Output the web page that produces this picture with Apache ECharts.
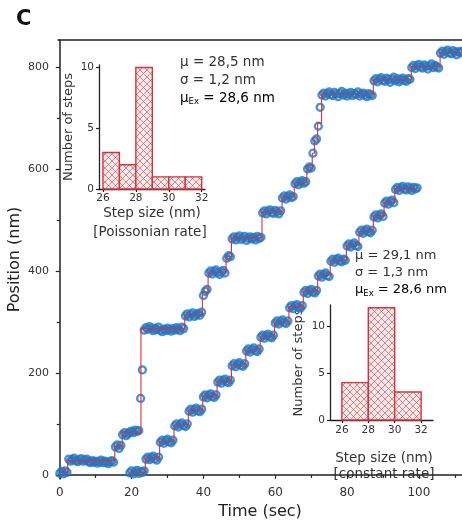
<!DOCTYPE html>
<html>
<head>
<meta charset="utf-8">
<script src="https://cdn.jsdelivr.net/npm/echarts@6/dist/echarts.min.js"></script>
<style>
html, body { margin: 0; padding: 0; background: #fff; }
#chart { width: 462px; height: 520px; }
</style>
</head>
<body>
<div id="chart"></div>
<script>
// frame interval of the tracking (sec)
const frameDt = 0.5

// trace 1 (Poissonian rate), positions in nm, one per frame from t = 0
const trace1T0 = 0
const trace1Pos = [
  3, 7, 2, 8, 5,
  31, 27, 30, 33, 28, 26, 30, 32, 27, 29, 31,
  26, 24, 28, 25, 27, 23, 26, 29, 24, 27, 25, 22, 26, 28, 25,
  55, 59, 52, 58,
  79, 83, 77, 81, 84,
  86, 83, 88, 85, 87,
  150, 206,
  284, 289, 286, 291, 287, 283, 288, 285, 290, 284, 281, 286, 283, 288, 285, 282, 287, 284, 289, 286, 283, 290, 287,
  312, 316, 310, 315, 318, 311, 314, 317, 313, 319,
  352, 360, 364,
  396, 400, 394, 399, 402, 397, 393, 398, 401, 396,
  425, 430, 428,
  463, 467, 461, 466, 469, 462, 465, 468, 460, 464, 467, 463, 466, 461, 468, 464, 466,
  514, 518, 512, 517, 520, 515, 513, 519, 516, 512, 518,
  543, 547, 541, 546, 549, 544, 546,
  571, 575, 569, 574, 577, 572, 575,
  600, 604, 602,
  631,
  655, 659,
  684,
  721,
  745, 749, 743, 748, 751, 746, 744, 750, 747, 742, 748, 752, 745, 749, 743, 747, 750, 744, 748, 746, 751, 743, 747, 749, 745, 742, 748, 746, 744,
  773, 777, 771, 776, 779, 774, 772, 778, 775, 770, 776, 780, 773, 777, 771, 775, 778, 774, 772, 777, 776,
  799, 803, 797, 802, 805, 800, 798, 804, 801, 796, 802, 806, 799, 803, 800, 798,
  827, 831, 825, 830, 833, 828, 826, 832, 829, 824, 830, 828, 831
]

// trace 2 (constant rate), from t = 19.5
const trace2T0 = 19.5
const trace2Pos = [
  4, 8, 2, 6, 9, 3, 7, 5, 8,
  31, 35, 30, 34, 37, 32, 29, 35,
  64, 68, 62, 67, 70, 65, 63, 68,
  96, 100, 94, 99, 102, 97, 95, 100,
  125, 129, 123, 128, 131, 126, 124, 129,
  153, 157, 151, 156, 159, 154, 152, 157,
  182, 186, 180, 185, 188, 183, 181, 186,
  214, 218, 212, 217, 220, 215, 213, 218,
  243, 247, 241, 246, 249, 244, 242, 247,
  270, 274, 268, 273, 276, 271, 269, 274,
  298, 302, 296, 301, 304, 299, 297, 302,
  328, 332, 326, 331, 334, 329, 327, 332,
  358, 362, 356, 361, 364, 359, 357, 362,
  390, 394, 388, 393, 396, 391, 389,
  419, 423, 417, 422, 425, 420, 418, 423, 421,
  449, 453, 447, 452, 455, 450, 448,
  476, 480, 474, 479, 482, 477, 475, 480,
  506, 510, 504, 509, 512, 507,
  533, 537, 531, 536, 539, 534,
  560, 564, 558, 563, 566, 561, 559, 565, 562, 558, 564, 561, 563
]

// step fits: [step time, level]
const fit1 = [
  [0, 5], [2.2, 28], [15.3, 56], [17.4, 84], [22.6, 287], [34.8, 314], [39.7, 358],
  [41.3, 398], [46.3, 428], [47.8, 465], [56.3, 516], [61.9, 545], [65.3, 573],
  [68.8, 602], [70.3, 631], [70.9, 657], [71.8, 690], [72.9, 747], [87.3, 775],
  [97.9, 801], [105.9, 829], [112, 829]
]
const fit2 = [
  [19.5, 5], [23.8, 33], [27.8, 66], [31.8, 98], [35.8, 127], [39.8, 155], [43.8, 184],
  [47.8, 216], [51.8, 245], [55.8, 272], [59.8, 300], [63.8, 330], [67.8, 360],
  [71.8, 392], [75.3, 421], [79.8, 451], [83.3, 478], [87.3, 508], [90.3, 535],
  [93.3, 562], [99.5, 562]
]

// step size histograms
const poissonEdges = [26, 27, 28, 29, 30, 31, 32]
const poissonCounts = [3, 2, 10, 1, 1, 1]
const constEdges = [26, 28, 30, 32]
const constCounts = [4, 12, 3]

const timeTicks = [0, 20, 40, 60, 80, 100]
const timeMinor = [10, 30, 50, 70, 90, 110]
const posTicks = [0, 200, 400, 600, 800]
const posMinor = [100, 300, 500, 700]
const binTicks = [26, 28, 30, 32]
const countTicks = [0, 5, 10]

const blue = '#1f77c6'
const red = '#d9303a'
const ink = '#222'
const font = 'DejaVu Sans'

function toPoints(t0, arr) {
  return arr.map((v, i) => [t0 + i * frameDt, v])
}
function toBins(edges, counts) {
  return counts.map((c, i) => [edges[i], edges[i + 1], c])
}

function hatch() {
  const c = document.createElement('canvas')
  c.width = c.height = 7
  const g = c.getContext('2d')
  g.fillStyle = '#fdeaea'
  g.fillRect(0, 0, 7, 7)
  g.strokeStyle = 'rgba(214,48,58,0.7)'
  g.lineWidth = 0.8
  g.beginPath()
  g.moveTo(0, 0); g.lineTo(7, 7)
  g.moveTo(7, 0); g.lineTo(0, 7)
  g.stroke()
  return c
}
const hatchFill = { image: hatch(), repeat: 'repeat' }

function histItem(params, api) {
  const lo = api.coord([api.value(0), 0])
  const hi = api.coord([api.value(1), api.value(2)])
  return {
    type: 'rect',
    shape: { x: lo[0], y: hi[1], width: hi[0] - lo[0], height: lo[1] - hi[1] },
    style: { fill: hatchFill, stroke: red, lineWidth: 1.4 }
  }
}

const axLine = { lineStyle: { color: ink, width: 1.5 } }
const lbl = (size, vals, margin) => ({ color: '#333', fontFamily: font, fontSize: size, customValues: vals, margin })
const tick = (vals, len) => ({ show: true, inside: false, length: len, customValues: vals, lineStyle: { color: ink, width: 1.2 } })
// hollow markers: ring only, so overlapping frames merge into a band
const marker = { symbol: 'circle', symbolSize: 7, itemStyle: { color: 'rgba(255,255,255,0)', borderColor: blue, borderWidth: 2.3 } }
const annot = (x, y, txt, size) => ({ type: 'text', x, y, style: { text: txt, font: size + 'px ' + font, fill: '#333', verticalAlign: 'middle' } })
const annotEx = (x, y, txt, size) => ({ type: 'text', x, y, style: { text: '{t|μ}{s|Ex}{t|' + txt + '}', verticalAlign: 'middle',
  rich: { t: { fontFamily: font, fontSize: size, color: '#333', lineHeight: 16 },
          s: { fontFamily: font, fontSize: 8.5, color: '#333', lineHeight: 9, verticalAlign: 'bottom' } } } })
const caption = (x, y, txt) => ({ type: 'text', x, y, style: { text: txt, font: '13.5px ' + font, fill: '#333', align: 'center', verticalAlign: 'middle' } })

const chart = echarts.init(document.getElementById('chart'))
chart.setOption({
  animation: false,
  backgroundColor: '#fff',
  grid: [
    { left: 58, top: 40, width: 404, height: 439, outerBoundsMode: 'none', containLabel: false },
    { left: 99, top: 65, width: 106, height: 124, outerBoundsMode: 'none', containLabel: false },
    { left: 330, top: 305, width: 103, height: 115, outerBoundsMode: 'none', containLabel: false }
  ],
  xAxis: [
    { gridIndex: 0, type: 'value', min: -0.5, max: 112, splitLine: { show: false },
      axisLine: axLine, axisTick: tick(timeTicks, 4), axisLabel: lbl(12, timeTicks, 8),
      name: 'Time (sec)', nameLocation: 'middle', nameGap: 23,
      nameTextStyle: { color: ink, fontFamily: font, fontSize: 16 } },
    { gridIndex: 0, type: 'value', min: -0.5, max: 112, position: 'bottom', splitLine: { show: false },
      axisLine: { show: false }, axisTick: tick(timeMinor, 3), axisLabel: { show: false } },
    { gridIndex: 0, type: 'value', min: -0.5, max: 112, position: 'top', splitLine: { show: false },
      axisLine: axLine, axisTick: { show: false }, axisLabel: { show: false } },
    { gridIndex: 1, type: 'value', min: 25.76, max: 32.2, splitLine: { show: false },
      axisLine: { lineStyle: { color: ink, width: 1.3 } }, axisTick: tick(binTicks, 3), axisLabel: lbl(10.5, binTicks, 4) },
    { gridIndex: 2, type: 'value', min: 25.1, max: 32.9, splitLine: { show: false },
      axisLine: { lineStyle: { color: ink, width: 1.3 } }, axisTick: tick(binTicks, 3), axisLabel: lbl(10.5, binTicks, 5) }
  ],
  yAxis: [
    { gridIndex: 0, type: 'value', min: -8, max: 853, splitLine: { show: false },
      axisLine: axLine, axisTick: tick(posTicks, 4), axisLabel: lbl(11, posTicks, 9),
      name: 'Position (nm)', nameLocation: 'middle', nameGap: 35, nameMoveOverlap: false,
      nameTextStyle: { color: ink, fontFamily: font, fontSize: 16 } },
    { gridIndex: 0, type: 'value', min: -8, max: 853, position: 'left', splitLine: { show: false },
      axisLine: { show: false }, axisTick: tick(posMinor, 3), axisLabel: { show: false } },
    { gridIndex: 1, type: 'value', min: 0, max: 10.2, splitLine: { show: false },
      axisLine: { lineStyle: { color: ink, width: 1.3 } }, axisTick: tick(countTicks, 3), axisLabel: lbl(10.5, countTicks, 5),
      name: 'Number of steps', nameLocation: 'middle', nameGap: 24,
      nameTextStyle: { color: '#333', fontFamily: font, fontSize: 13 } },
    { gridIndex: 2, type: 'value', min: 0, max: 12.3, splitLine: { show: false },
      axisLine: { lineStyle: { color: ink, width: 1.3 } }, axisTick: tick(countTicks, 3), axisLabel: lbl(10.5, countTicks, 5),
      name: 'Number of steps', nameLocation: 'middle', nameGap: 25,
      nameTextStyle: { color: '#333', fontFamily: font, fontSize: 13 } }
  ],
  graphic: [
    { type: 'text', x: 16, y: 20, style: { text: 'C', font: 'bold 21px ' + font, fill: '#111', verticalAlign: 'middle' } },
    annot(180, 62, 'μ = 28,5 nm', 13.5),
    annot(180, 80, 'σ = 1,2 nm', 13.5),
    annotEx(180, 98, ' = 28,6 nm', 13.5),
    annot(355, 256, 'μ = 29,1 nm', 13),
    annot(355, 273, 'σ = 1,3 nm', 13),
    annotEx(355, 290, ' = 28,6 nm', 13),
    caption(152, 213, 'Step size (nm)'),
    caption(150, 232, '[Poissonian rate]'),
    caption(384, 458, 'Step size (nm)'),
    caption(384, 474, '[constant rate]')
  ],
  series: [
    Object.assign({ type: 'scatter', xAxisIndex: 0, yAxisIndex: 0, data: toPoints(trace1T0, trace1Pos), z: 2 }, marker),
    Object.assign({ type: 'scatter', xAxisIndex: 0, yAxisIndex: 0, data: toPoints(trace2T0, trace2Pos), z: 2 }, marker),
    { type: 'line', xAxisIndex: 0, yAxisIndex: 0, data: fit1, step: 'end', showSymbol: false,
      lineStyle: { color: red, width: 1.1 }, z: 3 },
    { type: 'line', xAxisIndex: 0, yAxisIndex: 0, data: fit2, step: 'end', showSymbol: false,
      lineStyle: { color: red, width: 1.1 }, z: 3 },
    { type: 'custom', xAxisIndex: 3, yAxisIndex: 2, data: toBins(poissonEdges, poissonCounts), renderItem: histItem, z: 4 },
    { type: 'custom', xAxisIndex: 4, yAxisIndex: 3, data: toBins(constEdges, constCounts), renderItem: histItem, z: 4 }
  ]
})
</script>
</body>
</html>
